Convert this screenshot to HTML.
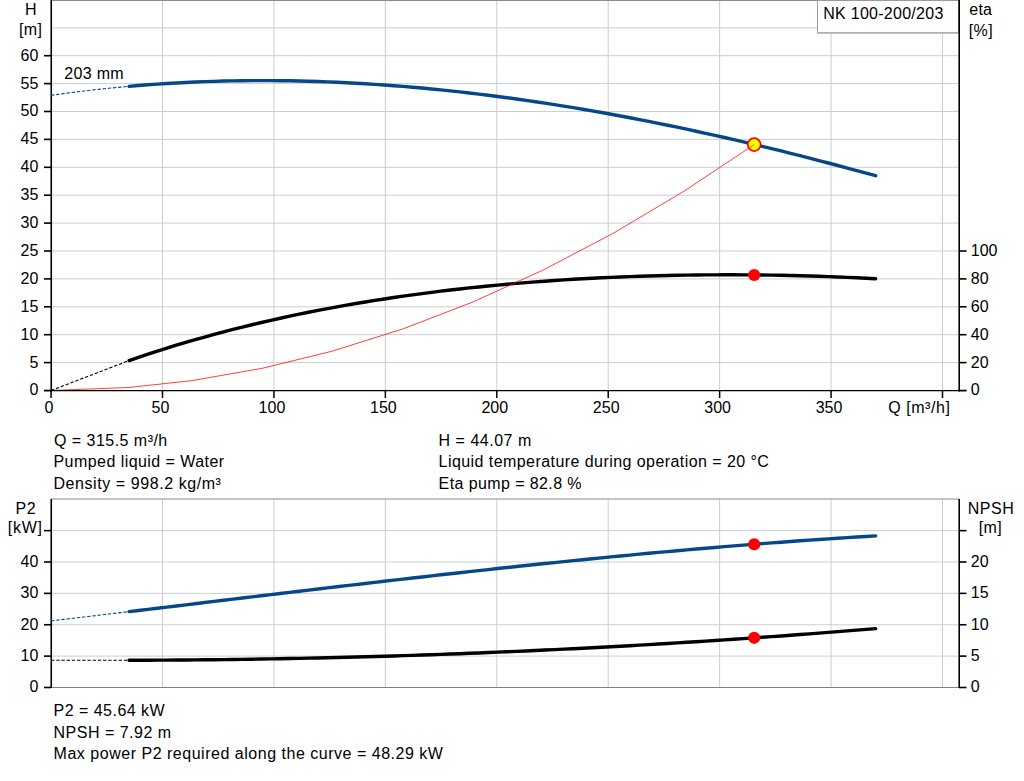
<!DOCTYPE html><html><head><meta charset="utf-8"><style>html,body{margin:0;padding:0;background:#fff;}svg{display:block;}text{font-family:"Liberation Sans",sans-serif;font-size:16px;fill:#000;}</style></head><body>
<svg width="1024" height="781" viewBox="0 0 1024 781">
<g stroke="#cbced2" stroke-width="1" fill="none">
<line x1="52" y1="362.60" x2="959" y2="362.60"/>
<line x1="52" y1="334.70" x2="959" y2="334.70"/>
<line x1="52" y1="306.80" x2="959" y2="306.80"/>
<line x1="52" y1="278.90" x2="959" y2="278.90"/>
<line x1="52" y1="251.00" x2="959" y2="251.00"/>
<line x1="52" y1="223.10" x2="959" y2="223.10"/>
<line x1="52" y1="195.20" x2="959" y2="195.20"/>
<line x1="52" y1="167.30" x2="959" y2="167.30"/>
<line x1="52" y1="139.40" x2="959" y2="139.40"/>
<line x1="52" y1="111.50" x2="959" y2="111.50"/>
<line x1="52" y1="83.60" x2="959" y2="83.60"/>
<line x1="52" y1="55.70" x2="959" y2="55.70"/>
<line x1="52" y1="27.80" x2="959" y2="27.80"/>
<line x1="162.50" y1="0" x2="162.50" y2="390"/>
<line x1="273.93" y1="0" x2="273.93" y2="390"/>
<line x1="385.36" y1="0" x2="385.36" y2="390"/>
<line x1="496.78" y1="0" x2="496.78" y2="390"/>
<line x1="608.21" y1="0" x2="608.21" y2="390"/>
<line x1="719.64" y1="0" x2="719.64" y2="390"/>
<line x1="831.07" y1="0" x2="831.07" y2="390"/>
<line x1="942.50" y1="0" x2="942.50" y2="390"/>
</g>
<line x1="51" y1="0.5" x2="959" y2="0.5" stroke="#8c8c8c" stroke-width="1"/>
<g stroke="#cbced2" stroke-width="1" fill="none">
<line x1="52" y1="656.12" x2="959" y2="656.12"/>
<line x1="52" y1="624.75" x2="959" y2="624.75"/>
<line x1="52" y1="593.38" x2="959" y2="593.38"/>
<line x1="52" y1="562.00" x2="959" y2="562.00"/>
<line x1="52" y1="530.62" x2="959" y2="530.62"/>
<line x1="162.50" y1="499" x2="162.50" y2="687"/>
<line x1="273.93" y1="499" x2="273.93" y2="687"/>
<line x1="385.36" y1="499" x2="385.36" y2="687"/>
<line x1="496.78" y1="499" x2="496.78" y2="687"/>
<line x1="608.21" y1="499" x2="608.21" y2="687"/>
<line x1="719.64" y1="499" x2="719.64" y2="687"/>
<line x1="831.07" y1="499" x2="831.07" y2="687"/>
<line x1="942.50" y1="499" x2="942.50" y2="687"/>
</g>
<line x1="51" y1="499" x2="959" y2="499" stroke="#8c8c8c" stroke-width="1"/>
<line x1="51" y1="687.5" x2="959" y2="687.5" stroke="#808080" stroke-width="1"/>
<rect x="817.5" y="0.5" width="141" height="32" fill="#fff" stroke="#9a9a9a" stroke-width="1"/>
<line x1="817" y1="32.9" x2="958" y2="32.9" stroke="#b0b0b0" stroke-width="1.6"/>
<path d="M129.07,86.34 L138.52,85.55 L147.97,84.81 L157.42,84.13 L166.87,83.52 L176.32,82.96 L185.77,82.47 L195.22,82.03 L204.67,81.65 L214.12,81.33 L223.57,81.07 L233.02,80.87 L242.47,80.72 L251.92,80.63 L261.37,80.59 L270.82,80.61 L280.27,80.68 L289.72,80.81 L299.17,80.99 L308.63,81.23 L318.08,81.52 L327.53,81.86 L336.98,82.25 L346.43,82.70 L355.88,83.19 L365.33,83.74 L374.78,84.34 L384.23,84.98 L393.68,85.68 L403.13,86.42 L412.58,87.22 L422.03,88.06 L431.48,88.95 L440.93,89.88 L450.38,90.86 L459.83,91.89 L469.28,92.97 L478.73,94.09 L488.18,95.25 L497.63,96.46 L507.08,97.71 L516.53,99.00 L525.98,100.34 L535.43,101.72 L544.88,103.15 L554.33,104.61 L563.78,106.11 L573.23,107.66 L582.68,109.24 L592.13,110.87 L601.58,112.53 L611.03,114.24 L620.48,115.98 L629.93,117.75 L639.38,119.57 L648.83,121.42 L658.29,123.31 L667.74,125.24 L677.19,127.20 L686.64,129.19 L696.09,131.22 L705.54,133.29 L714.99,135.38 L724.44,137.52 L733.89,139.68 L743.34,141.87 L752.79,144.10 L762.24,146.36 L771.69,148.65 L781.14,150.97 L790.59,153.32 L800.04,155.70 L809.49,158.11 L818.94,160.54 L828.39,163.01 L837.84,165.50 L847.29,168.02 L856.74,170.56 L866.19,173.14 L875.64,175.73" stroke="#06478a" stroke-width="3.4" fill="none" stroke-linecap="round" stroke-linejoin="round"/>
<path d="M129.07,360.54 L138.52,357.32 L147.97,354.18 L157.42,351.12 L166.87,348.14 L176.32,345.24 L185.77,342.43 L195.22,339.68 L204.67,337.02 L214.12,334.42 L223.57,331.90 L233.02,329.45 L242.47,327.07 L251.92,324.76 L261.37,322.52 L270.82,320.34 L280.27,318.23 L289.72,316.18 L299.17,314.19 L308.63,312.27 L318.08,310.40 L327.53,308.60 L336.98,306.85 L346.43,305.16 L355.88,303.53 L365.33,301.95 L374.78,300.42 L384.23,298.95 L393.68,297.53 L403.13,296.16 L412.58,294.84 L422.03,293.57 L431.48,292.35 L440.93,291.18 L450.38,290.05 L459.83,288.97 L469.28,287.93 L478.73,286.94 L488.18,285.99 L497.63,285.09 L507.08,284.23 L516.53,283.41 L525.98,282.63 L535.43,281.89 L544.88,281.19 L554.33,280.53 L563.78,279.90 L573.23,279.32 L582.68,278.77 L592.13,278.26 L601.58,277.79 L611.03,277.35 L620.48,276.95 L629.93,276.59 L639.38,276.26 L648.83,275.96 L658.29,275.70 L667.74,275.47 L677.19,275.28 L686.64,275.12 L696.09,274.99 L705.54,274.89 L714.99,274.83 L724.44,274.80 L733.89,274.81 L743.34,274.84 L752.79,274.91 L762.24,275.01 L771.69,275.14 L781.14,275.30 L790.59,275.49 L800.04,275.72 L809.49,275.98 L818.94,276.27 L828.39,276.59 L837.84,276.95 L847.29,277.33 L856.74,277.75 L866.19,278.20 L875.64,278.69" stroke="#000" stroke-width="3.4" fill="none" stroke-linecap="round" stroke-linejoin="round"/>
<path d="M129.07,611.62 L138.52,610.49 L147.97,609.36 L157.42,608.22 L166.87,607.09 L176.32,605.96 L185.77,604.82 L195.22,603.69 L204.67,602.55 L214.12,601.42 L223.57,600.28 L233.02,599.15 L242.47,598.02 L251.92,596.88 L261.37,595.75 L270.82,594.62 L280.27,593.50 L289.72,592.37 L299.17,591.25 L308.63,590.13 L318.08,589.01 L327.53,587.89 L336.98,586.78 L346.43,585.67 L355.88,584.57 L365.33,583.46 L374.78,582.37 L384.23,581.27 L393.68,580.18 L403.13,579.10 L412.58,578.02 L422.03,576.95 L431.48,575.88 L440.93,574.81 L450.38,573.76 L459.83,572.71 L469.28,571.66 L478.73,570.62 L488.18,569.59 L497.63,568.56 L507.08,567.55 L516.53,566.54 L525.98,565.53 L535.43,564.54 L544.88,563.55 L554.33,562.58 L563.78,561.61 L573.23,560.64 L582.68,559.69 L592.13,558.75 L601.58,557.82 L611.03,556.89 L620.48,555.98 L629.93,555.08 L639.38,554.18 L648.83,553.30 L658.29,552.43 L667.74,551.57 L677.19,550.72 L686.64,549.88 L696.09,549.06 L705.54,548.25 L714.99,547.44 L724.44,546.66 L733.89,545.88 L743.34,545.12 L752.79,544.37 L762.24,543.63 L771.69,542.91 L781.14,542.20 L790.59,541.50 L800.04,540.82 L809.49,540.15 L818.94,539.50 L828.39,538.86 L837.84,538.24 L847.29,537.64 L856.74,537.05 L866.19,536.47 L875.64,535.91" stroke="#06478a" stroke-width="3.4" fill="none" stroke-linecap="round" stroke-linejoin="round"/>
<path d="M129.07,660.25 L138.52,660.22 L147.97,660.19 L157.42,660.15 L166.87,660.10 L176.32,660.04 L185.77,659.97 L195.22,659.89 L204.67,659.80 L214.12,659.70 L223.57,659.59 L233.02,659.47 L242.47,659.34 L251.92,659.20 L261.37,659.05 L270.82,658.90 L280.27,658.73 L289.72,658.55 L299.17,658.36 L308.63,658.16 L318.08,657.96 L327.53,657.74 L336.98,657.51 L346.43,657.28 L355.88,657.03 L365.33,656.78 L374.78,656.51 L384.23,656.23 L393.68,655.95 L403.13,655.65 L412.58,655.35 L422.03,655.04 L431.48,654.71 L440.93,654.38 L450.38,654.04 L459.83,653.68 L469.28,653.32 L478.73,652.95 L488.18,652.57 L497.63,652.17 L507.08,651.77 L516.53,651.36 L525.98,650.94 L535.43,650.51 L544.88,650.07 L554.33,649.62 L563.78,649.16 L573.23,648.69 L582.68,648.21 L592.13,647.73 L601.58,647.23 L611.03,646.72 L620.48,646.20 L629.93,645.68 L639.38,645.14 L648.83,644.59 L658.29,644.04 L667.74,643.47 L677.19,642.90 L686.64,642.31 L696.09,641.72 L705.54,641.11 L714.99,640.50 L724.44,639.88 L733.89,639.25 L743.34,638.60 L752.79,637.95 L762.24,637.29 L771.69,636.62 L781.14,635.94 L790.59,635.25 L800.04,634.55 L809.49,633.84 L818.94,633.12 L828.39,632.39 L837.84,631.65 L847.29,630.91 L856.74,630.15 L866.19,629.38 L875.64,628.61" stroke="#000" stroke-width="3.4" fill="none" stroke-linecap="round" stroke-linejoin="round"/>
<circle cx="754.18" cy="144.59" r="6.45" fill="#ffff00" stroke="#ff0000" stroke-width="1.7"/>
<path d="M51.07,390.50 L129.07,387.47 L191.69,380.66 L262.00,368.37 L332.32,351.15 L402.63,329.02 L472.94,301.97 L543.25,270.00 L613.56,233.12 L683.87,191.31 L754.18,144.59" stroke="#ff0000" stroke-width="1" fill="none" opacity="0.75"/>
<g stroke="#000" fill="none">
<line x1="51.25" y1="0" x2="51.25" y2="391.5" stroke-width="1.6"/>
<line x1="44" y1="390.6" x2="966.5" y2="390.6" stroke-width="1.4"/>
<line x1="959.2" y1="0" x2="959.2" y2="391.5" stroke-width="1.6"/>
<line x1="44" y1="390.50" x2="51" y2="390.50" stroke-width="1.6"/>
<line x1="44" y1="362.60" x2="51" y2="362.60" stroke-width="1.6"/>
<line x1="44" y1="334.70" x2="51" y2="334.70" stroke-width="1.6"/>
<line x1="44" y1="306.80" x2="51" y2="306.80" stroke-width="1.6"/>
<line x1="44" y1="278.90" x2="51" y2="278.90" stroke-width="1.6"/>
<line x1="44" y1="251.00" x2="51" y2="251.00" stroke-width="1.6"/>
<line x1="44" y1="223.10" x2="51" y2="223.10" stroke-width="1.6"/>
<line x1="44" y1="195.20" x2="51" y2="195.20" stroke-width="1.6"/>
<line x1="44" y1="167.30" x2="51" y2="167.30" stroke-width="1.6"/>
<line x1="44" y1="139.40" x2="51" y2="139.40" stroke-width="1.6"/>
<line x1="44" y1="111.50" x2="51" y2="111.50" stroke-width="1.6"/>
<line x1="44" y1="83.60" x2="51" y2="83.60" stroke-width="1.6"/>
<line x1="44" y1="55.70" x2="51" y2="55.70" stroke-width="1.6"/>
<line x1="959" y1="390.50" x2="966.5" y2="390.50" stroke-width="1.6"/>
<line x1="959" y1="362.60" x2="966.5" y2="362.60" stroke-width="1.6"/>
<line x1="959" y1="334.70" x2="966.5" y2="334.70" stroke-width="1.6"/>
<line x1="959" y1="306.80" x2="966.5" y2="306.80" stroke-width="1.6"/>
<line x1="959" y1="278.90" x2="966.5" y2="278.90" stroke-width="1.6"/>
<line x1="959" y1="251.00" x2="966.5" y2="251.00" stroke-width="1.6"/>
<line x1="51.07" y1="390" x2="51.07" y2="398" stroke-width="1.5"/>
<line x1="162.50" y1="390" x2="162.50" y2="398" stroke-width="1.5"/>
<line x1="273.93" y1="390" x2="273.93" y2="398" stroke-width="1.5"/>
<line x1="385.36" y1="390" x2="385.36" y2="398" stroke-width="1.5"/>
<line x1="496.78" y1="390" x2="496.78" y2="398" stroke-width="1.5"/>
<line x1="608.21" y1="390" x2="608.21" y2="398" stroke-width="1.5"/>
<line x1="719.64" y1="390" x2="719.64" y2="398" stroke-width="1.5"/>
<line x1="831.07" y1="390" x2="831.07" y2="398" stroke-width="1.5"/>
<line x1="942.50" y1="390" x2="942.50" y2="398" stroke-width="1.5"/>
</g>
<g stroke="#000" fill="none">
<line x1="51.25" y1="499" x2="51.25" y2="688" stroke-width="1.6"/>
<line x1="959.2" y1="499" x2="959.2" y2="688" stroke-width="1.6"/>
<line x1="44" y1="687.50" x2="51" y2="687.50" stroke-width="1.6"/>
<line x1="44" y1="656.12" x2="51" y2="656.12" stroke-width="1.6"/>
<line x1="44" y1="624.75" x2="51" y2="624.75" stroke-width="1.6"/>
<line x1="44" y1="593.38" x2="51" y2="593.38" stroke-width="1.6"/>
<line x1="44" y1="562.00" x2="51" y2="562.00" stroke-width="1.6"/>
<line x1="44" y1="530.62" x2="51" y2="530.62" stroke-width="1.6"/>
<line x1="959" y1="687.50" x2="966.5" y2="687.50" stroke-width="1.6"/>
<line x1="959" y1="656.12" x2="966.5" y2="656.12" stroke-width="1.6"/>
<line x1="959" y1="624.75" x2="966.5" y2="624.75" stroke-width="1.6"/>
<line x1="959" y1="593.38" x2="966.5" y2="593.38" stroke-width="1.6"/>
<line x1="959" y1="562.00" x2="966.5" y2="562.00" stroke-width="1.6"/>
<line x1="959" y1="530.62" x2="966.5" y2="530.62" stroke-width="1.6"/>
</g>
<path d="M51.07,95.33 L55.18,94.75 L59.28,94.18 L63.39,93.62 L67.49,93.08 L71.60,92.54 L75.70,92.02 L79.81,91.51 L83.91,91.02 L88.02,90.53 L92.12,90.06 L96.23,89.60 L100.33,89.15 L104.44,88.72 L108.54,88.29 L112.65,87.88 L116.75,87.48 L120.86,87.09 L124.96,86.71 L129.07,86.34" stroke="#06478a" stroke-width="1.1" fill="none" stroke-dasharray="3.3 1.9"/>
<path d="M51.07,390.50 L129.07,360.54" stroke="#000" stroke-width="1.1" fill="none" stroke-dasharray="3.3 1.9"/>
<path d="M51.07,620.85 L55.18,620.37 L59.28,619.89 L63.39,619.41 L67.49,618.93 L71.60,618.44 L75.70,617.96 L79.81,617.47 L83.91,616.99 L88.02,616.50 L92.12,616.02 L96.23,615.53 L100.33,615.04 L104.44,614.55 L108.54,614.06 L112.65,613.58 L116.75,613.09 L120.86,612.60 L124.96,612.11 L129.07,611.62" stroke="#06478a" stroke-width="1.1" fill="none" stroke-dasharray="3.3 1.9"/>
<path d="M51.07,660.25 L129.07,660.25" stroke="#000" stroke-width="1.1" fill="none" stroke-dasharray="3.3 1.9"/>
<circle cx="754.18" cy="274.99" r="6.1" fill="#ff0000"/>
<circle cx="754.18" cy="544.30" r="6.1" fill="#ff0000"/>
<circle cx="754.18" cy="637.80" r="6.1" fill="#ff0000"/>
<text x="38.4" y="395.40" text-anchor="end">0</text>
<text x="38.4" y="367.50" text-anchor="end">5</text>
<text x="38.4" y="339.60" text-anchor="end">10</text>
<text x="38.4" y="311.70" text-anchor="end">15</text>
<text x="38.4" y="283.80" text-anchor="end">20</text>
<text x="38.4" y="255.90" text-anchor="end">25</text>
<text x="38.4" y="228.00" text-anchor="end">30</text>
<text x="38.4" y="200.10" text-anchor="end">35</text>
<text x="38.4" y="172.20" text-anchor="end">40</text>
<text x="38.4" y="144.30" text-anchor="end">45</text>
<text x="38.4" y="116.40" text-anchor="end">50</text>
<text x="38.4" y="88.50" text-anchor="end">55</text>
<text x="38.4" y="60.60" text-anchor="end">60</text>
<text x="970.8" y="395.40">0</text>
<text x="970.8" y="367.50">20</text>
<text x="970.8" y="339.60">40</text>
<text x="970.8" y="311.70">60</text>
<text x="970.8" y="283.80">80</text>
<text x="970.8" y="255.90">100</text>
<text x="49.07" y="413" text-anchor="middle">0</text>
<text x="160.50" y="413" text-anchor="middle">50</text>
<text x="271.93" y="413" text-anchor="middle">100</text>
<text x="383.36" y="413" text-anchor="middle">150</text>
<text x="494.78" y="413" text-anchor="middle">200</text>
<text x="606.21" y="413" text-anchor="middle">250</text>
<text x="717.64" y="413" text-anchor="middle">300</text>
<text x="829.07" y="413" text-anchor="middle">350</text>
<text x="38.4" y="692.40" text-anchor="end">0</text>
<text x="38.4" y="661.02" text-anchor="end">10</text>
<text x="38.4" y="629.65" text-anchor="end">20</text>
<text x="38.4" y="598.27" text-anchor="end">30</text>
<text x="38.4" y="566.90" text-anchor="end">40</text>
<text x="970.8" y="692.40">0</text>
<text x="970.8" y="661.02">5</text>
<text x="970.8" y="629.65">10</text>
<text x="970.8" y="598.27">15</text>
<text x="970.8" y="566.90">20</text>
<text x="888.24" y="413.00" style="letter-spacing:0.545px">Q [m³/h]</text>
<text x="25.04" y="15.00">H</text>
<text x="19.01" y="35.00" style="letter-spacing:0.306px">[m]</text>
<text x="969.32" y="15.00" style="letter-spacing:0.219px">eta</text>
<text x="968.66" y="35.50" style="letter-spacing:0.482px">[%]</text>
<text x="15.59" y="513.50" style="letter-spacing:0.547px">P2</text>
<text x="7.86" y="533.00" style="letter-spacing:0.663px">[kW]</text>
<text x="967.79" y="513.50" style="letter-spacing:0.488px">NPSH</text>
<text x="978.71" y="533.00" style="letter-spacing:0.436px">[m]</text>
<text x="64.30" y="79.00" style="letter-spacing:0.312px">203 mm</text>
<text x="823.29" y="19.00" style="letter-spacing:0.268px">NK 100-200/203</text>
<text x="54.04" y="445.60" style="letter-spacing:0.464px">Q = 315.5 m³/h</text>
<text x="53.49" y="467.20" style="letter-spacing:0.449px">Pumped liquid = Water</text>
<text x="53.49" y="488.80" style="letter-spacing:0.568px">Density = 998.2 kg/m³</text>
<text x="438.59" y="445.60" style="letter-spacing:0.507px">H = 44.07 m</text>
<text x="438.59" y="467.20" style="letter-spacing:0.438px">Liquid temperature during operation = 20 °C</text>
<text x="438.59" y="488.80" style="letter-spacing:0.403px">Eta pump = 82.8 %</text>
<text x="53.59" y="715.50" style="letter-spacing:0.473px">P2 = 45.64 kW</text>
<text x="53.59" y="737.90" style="letter-spacing:0.489px">NPSH = 7.92 m</text>
<text x="53.59" y="758.70" style="letter-spacing:0.517px">Max power P2 required along the curve = 48.29 kW</text>
</svg></body></html>
